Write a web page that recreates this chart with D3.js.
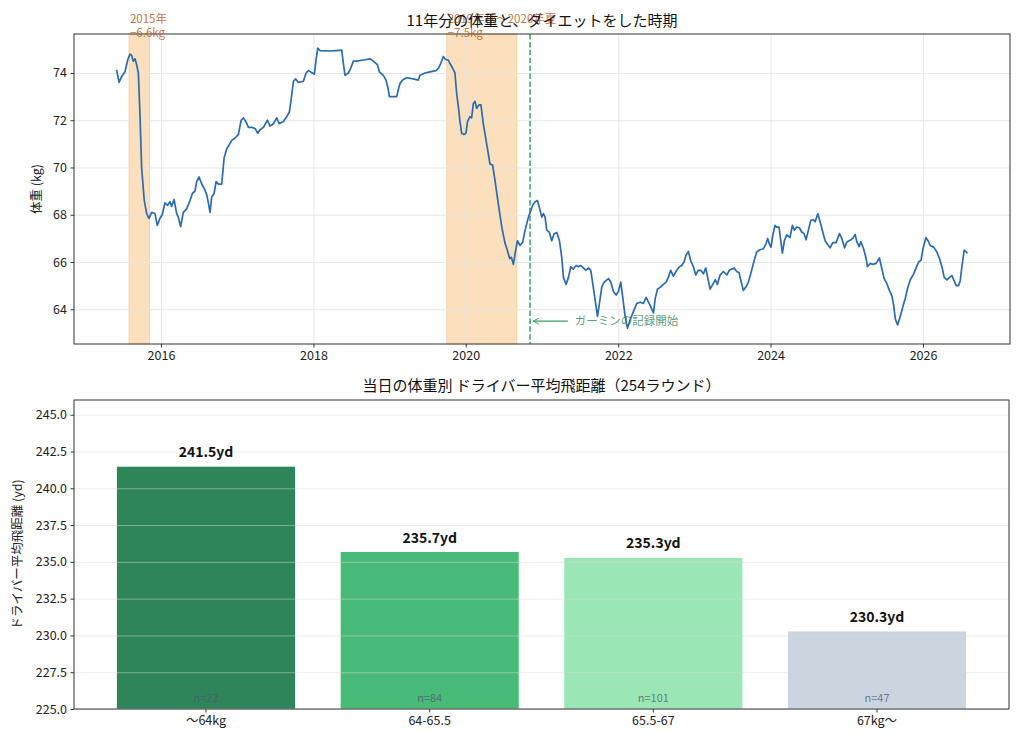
<!DOCTYPE html>
<html>
<head>
<meta charset="utf-8">
<script src="https://cdn.jsdelivr.net/npm/d3@7"></script>
<style>
  body { margin: 0; background: #fff; }
  svg { display: block; font-family: "Noto Sans CJK JP", "Noto Sans", sans-serif; }
  .tick text { fill: #222; font-family: "Noto Sans CJK JP", "Noto Sans", sans-serif; }
  .tick line { stroke: #333; }
  .grid line { stroke: #e4e4e4; stroke-width: 0.9; }
</style>
</head>
<body>
<div id="chart"></div>
<script>
// ---- data: weight series (decimal year, kg)
var weightYears = [
  2015.418, 2015.449, 2015.484, 2015.528, 2015.563, 2015.593, 2015.615, 2015.637, 2015.659, 2015.681,
  2015.703, 2015.724, 2015.746, 2015.781, 2015.812, 2015.843, 2015.878, 2015.921, 2015.952, 2015.987,
  2016.017, 2016.052, 2016.087, 2016.118, 2016.140, 2016.171, 2016.206, 2016.227, 2016.258, 2016.293,
  2016.337, 2016.381, 2016.411, 2016.446, 2016.468, 2016.499, 2016.534, 2016.569, 2016.599, 2016.621,
  2016.643, 2016.665, 2016.696, 2016.722, 2016.752, 2016.796, 2016.827, 2016.862, 2016.892, 2016.927,
  2016.971, 2017.015, 2017.050, 2017.080, 2017.111, 2017.146, 2017.190, 2017.234, 2017.269, 2017.299,
  2017.343, 2017.395, 2017.430, 2017.474, 2017.518, 2017.549, 2017.605, 2017.649, 2017.684, 2017.706,
  2017.737, 2017.767, 2017.802, 2017.868, 2017.903, 2017.934, 2017.986, 2018.012, 2018.034, 2018.056,
  2018.087, 2018.218, 2018.300, 2018.371, 2018.393, 2018.415, 2018.459, 2018.489, 2018.525, 2018.569,
  2018.656, 2018.743, 2018.787, 2018.840, 2018.866, 2018.918, 2018.953, 2018.983, 2018.997, 2019.093,
  2019.115, 2019.136, 2019.171, 2019.224, 2019.311, 2019.377, 2019.399, 2019.465, 2019.530, 2019.609,
  2019.640, 2019.671, 2019.705, 2019.727, 2019.749, 2019.771, 2019.793, 2019.828, 2019.858, 2019.880,
  2019.902, 2019.924, 2019.946, 2019.977, 2020.003, 2020.024, 2020.055, 2020.077, 2020.099, 2020.121,
  2020.143, 2020.173, 2020.199, 2020.230, 2020.274, 2020.317, 2020.352, 2020.383, 2020.427, 2020.471,
  2020.514, 2020.545, 2020.575, 2020.597, 2020.624, 2020.646, 2020.677, 2020.712, 2020.747, 2020.777,
  2020.821, 2020.877, 2020.908, 2020.939, 2020.965, 2020.995, 2021.017, 2021.039, 2021.061, 2021.096,
  2021.127, 2021.158, 2021.193, 2021.228, 2021.258, 2021.280, 2021.315, 2021.346, 2021.376, 2021.411,
  2021.446, 2021.477, 2021.508, 2021.543, 2021.578, 2021.608, 2021.639, 2021.665, 2021.696, 2021.727,
  2021.753, 2021.784, 2021.815, 2021.871, 2021.902, 2021.937, 2021.972, 2022.002, 2022.033, 2022.059,
  2022.090, 2022.121, 2022.155, 2022.199, 2022.243, 2022.287, 2022.331, 2022.366, 2022.397, 2022.428,
  2022.463, 2022.485, 2022.515, 2022.559, 2022.592, 2022.629, 2022.658, 2022.689, 2022.724, 2022.768,
  2022.803, 2022.834, 2022.864, 2022.891, 2022.921, 2022.952, 2022.987, 2023.017, 2023.052, 2023.083,
  2023.118, 2023.149, 2023.184, 2023.206, 2023.241, 2023.276, 2023.302, 2023.337, 2023.381, 2023.425,
  2023.460, 2023.490, 2023.521, 2023.556, 2023.586, 2023.608, 2023.643, 2023.678, 2023.709, 2023.740,
  2023.774, 2023.817, 2023.861, 2023.905, 2023.940, 2023.962, 2023.984, 2024.006, 2024.028, 2024.058,
  2024.080, 2024.111, 2024.133, 2024.155, 2024.181, 2024.212, 2024.255, 2024.286, 2024.312, 2024.343,
  2024.378, 2024.409, 2024.439, 2024.465, 2024.496, 2024.527, 2024.562, 2024.584, 2024.619, 2024.649,
  2024.684, 2024.715, 2024.745, 2024.780, 2024.815, 2024.859, 2024.903, 2024.934, 2024.969, 2024.999,
  2025.042, 2025.077, 2025.108, 2025.130, 2025.161, 2025.182, 2025.217, 2025.252, 2025.270, 2025.305,
  2025.340, 2025.383, 2025.427, 2025.458, 2025.488, 2025.523, 2025.558, 2025.593, 2025.615, 2025.637,
  2025.667, 2025.702, 2025.737, 2025.767, 2025.798, 2025.833, 2025.877, 2025.912, 2025.942, 2025.973,
  2025.999, 2026.038, 2026.065, 2026.095, 2026.139, 2026.182, 2026.217, 2026.248, 2026.278, 2026.313,
  2026.348, 2026.379, 2026.409, 2026.435, 2026.466, 2026.488, 2026.510, 2026.540, 2026.566, 2026.584
];
var weightKg = [
  74.13, 73.60, 73.85, 74.05, 74.55, 74.80, 74.75, 74.50, 74.60, 74.35,
  74.00, 72.30, 70.00, 68.60, 68.05, 67.85, 68.10, 68.05, 67.55, 67.85,
  68.00, 68.50, 68.40, 68.55, 68.35, 68.65, 68.05, 67.90, 67.50, 68.10,
  68.25, 68.60, 68.90, 69.00, 69.40, 69.60, 69.30, 69.10, 68.85, 68.50,
  68.10, 68.75, 68.90, 69.40, 69.30, 69.30, 70.40, 70.80, 70.95, 71.15,
  71.25, 71.40, 72.00, 72.10, 71.95, 71.70, 71.70, 71.65, 71.45, 71.60,
  71.70, 72.00, 71.75, 71.85, 72.10, 71.85, 71.95, 72.15, 72.35, 72.85,
  73.65, 73.75, 73.60, 73.65, 74.00, 74.10, 74.00, 73.95, 74.55, 75.05,
  74.95, 74.93, 74.95, 74.97, 74.40, 73.90, 74.00, 74.20, 74.50, 74.50,
  74.55, 74.60, 74.50, 74.35, 74.05, 73.90, 73.70, 73.30, 73.00, 73.00,
  73.30, 73.55, 73.70, 73.80, 73.75, 73.70, 73.90, 74.00, 74.05, 74.10,
  74.20, 74.40, 74.70, 74.60, 74.55, 74.55, 74.40, 74.20, 74.00, 73.15,
  72.60, 71.95, 71.45, 71.40, 71.45, 71.95, 72.15, 72.10, 72.70, 72.80,
  72.50, 72.65, 72.65, 71.85, 71.00, 70.15, 70.10, 69.45, 68.45, 67.50,
  66.80, 66.50, 66.15, 66.20, 65.90, 66.35, 66.90, 66.70, 66.85, 67.35,
  67.90, 68.40, 68.55, 68.60, 68.30, 67.90, 68.05, 67.90, 67.35, 67.25,
  66.90, 67.20, 67.25, 66.90, 66.20, 65.35, 65.05, 65.35, 65.80, 65.70,
  65.85, 65.80, 65.85, 65.75, 65.65, 65.75, 65.65, 65.10, 64.40, 63.70,
  64.25, 64.95, 65.15, 65.30, 65.15, 64.75, 64.60, 64.75, 65.15, 64.50,
  63.70, 63.20, 63.55, 63.90, 64.25, 64.30, 64.25, 64.50, 64.30, 64.10,
  63.85, 64.45, 64.85, 64.95, 65.05, 65.15, 65.35, 65.65, 65.40, 65.65,
  65.80, 65.85, 66.00, 66.30, 66.45, 66.05, 65.80, 65.45, 65.65, 65.65,
  65.50, 65.75, 65.20, 64.85, 65.05, 65.25, 65.05, 65.45, 65.60, 65.45,
  65.65, 65.70, 65.75, 65.60, 65.55, 65.25, 64.80, 64.95, 65.15, 65.50,
  65.93, 66.42, 66.52, 66.56, 66.77, 67.00, 66.77, 66.63, 67.10, 67.55,
  67.48, 67.48, 66.93, 66.38, 66.90, 67.15, 67.03, 67.55, 67.35, 67.48,
  67.45, 67.27, 67.20, 66.94, 67.35, 67.76, 67.79, 67.70, 68.04, 67.70,
  67.27, 66.90, 66.75, 66.60, 66.82, 66.82, 67.20, 67.00, 66.60, 66.85,
  66.92, 67.00, 67.17, 66.86, 66.65, 66.86, 66.58, 66.16, 65.80, 65.94,
  65.90, 65.94, 66.17, 65.73, 65.31, 65.10, 64.80, 64.56, 64.14, 63.57,
  63.34, 63.71, 64.14, 64.47, 64.90, 65.25, 65.50, 65.77, 66.00, 66.07,
  66.56, 67.03, 66.90, 66.70, 66.63, 66.42, 66.14, 65.80, 65.35, 65.24,
  65.35, 65.42, 65.20, 65.00, 65.00, 65.20, 65.80, 66.50, 66.43, 66.37
];

// diet periods (decimal year) and their labels
var dietStarts = [2015.58, 2019.75];
var dietEnds = [2015.85, 2020.67];
var dietLabels = [["2015年", "−6.6kg"], ["2019年秋〜2020年夏", "−7.5kg"]];
var garminStart = 2020.842;
var garminLabel = "ガーミンの記録開始";
var garminLabelKg = 63.5;
var garminLabelYear = 2021.43;

var weightTicks = [64, 66, 68, 70, 72, 74];
var yearTicks = [2016, 2018, 2020, 2022, 2024, 2026];

// ---- data: driver distance by weight bucket
var weightBuckets = ["〜64kg", "64-65.5", "65.5-67", "67kg〜"];
var avgDistance = [241.5, 235.7, 235.3, 230.3];
var roundCounts = [22, 84, 101, 47];
var distanceTicks = [225, 227.5, 230, 232.5, 235, 237.5, 240, 242.5, 245];
var bucketColors = ["#2f855a", "#48bb78", "#9ae6b4", "#cbd5e0"];

// decimal year -> Date
function yearToDate(y) {
    var yr = Math.floor(y);
    var a = new Date(yr, 0, 1), b = new Date(yr + 1, 0, 1);
    return new Date(+a + (y - yr) * (b - a));
}

// d3 axes put their own font on the group, drop it so the page font is used
function plainAxis(g) {
    g.attr("font-family", null).attr("font-size", null);
    g.select(".domain").remove();
}

var width = 1024, height = 745;
var svg = d3.select("#chart").append("svg")
    .attr("width", width)
    .attr("height", height);

// ================= top panel: weight history =================
var top1 = {left: 74, right: 1010, top: 34, bottom: 344};

var x = d3.scaleTime()
    .domain([yearToDate(2014.858), yearToDate(2027.142)])
    .range([top1.left, top1.right]);
var y = d3.scaleLinear()
    .domain([62.53, 75.65])
    .range([top1.bottom, top1.top]);

var weightData = weightYears.map(function(t, i) { return {date: yearToDate(t), kg: weightKg[i]}; });

// diet bands
svg.append("g").selectAll("rect")
    .data(dietStarts)
    .enter().append("rect")
    .attr("x", function(d) { return x(yearToDate(d)); })
    .attr("y", top1.top)
    .attr("width", function(d, i) { return x(yearToDate(dietEnds[i])) - x(yearToDate(d)); })
    .attr("height", top1.bottom - top1.top)
    .attr("fill", "#f6ad55")
    .attr("fill-opacity", 0.38)
    .attr("stroke", "#f6ad55")
    .attr("stroke-opacity", 0.4)
    .attr("stroke-width", 1);

// gridlines
svg.append("g")
    .attr("class", "grid")
    .attr("transform", "translate(0," + top1.bottom + ")")
    .call(d3.axisBottom(x).tickValues(yearTicks.map(yearToDate)).tickSize(-(top1.bottom - top1.top)).tickFormat(""))
    .call(plainAxis);
svg.append("g")
    .attr("class", "grid")
    .attr("transform", "translate(" + top1.left + ",0)")
    .call(d3.axisLeft(y).tickValues(weightTicks).tickSize(-(top1.right - top1.left)).tickFormat(""))
    .call(plainAxis);

// garmin start line
svg.append("line")
    .attr("x1", x(yearToDate(garminStart)))
    .attr("x2", x(yearToDate(garminStart)))
    .attr("y1", top1.top)
    .attr("y2", top1.bottom)
    .attr("stroke", "#38a169")
    .attr("stroke-width", 1.5)
    .attr("stroke-dasharray", "5.5,2.4");

// weight line
var line = d3.line()
    .x(function(d) { return x(d.date); })
    .y(function(d) { return y(d.kg); });
svg.append("path")
    .datum(weightData)
    .attr("fill", "none")
    .attr("stroke", "#2b6cb0")
    .attr("stroke-width", 1.7)
    .attr("stroke-linejoin", "round")
    .attr("d", line);

// axes
svg.append("g")
    .attr("transform", "translate(0," + top1.bottom + ")")
    .call(d3.axisBottom(x).tickValues(yearTicks.map(yearToDate)).tickSize(3.5).tickPadding(3.5).tickFormat(d3.timeFormat("%Y")))
    .call(plainAxis)
    .selectAll("text").style("font-size", "12.5px");
svg.append("g")
    .attr("transform", "translate(" + top1.left + ",0)")
    .call(d3.axisLeft(y).tickValues(weightTicks).tickSize(3.5).tickPadding(3.5))
    .call(plainAxis)
    .selectAll("text").style("font-size", "12.5px");

svg.append("rect")
    .attr("x", top1.left).attr("y", top1.top)
    .attr("width", top1.right - top1.left).attr("height", top1.bottom - top1.top)
    .attr("fill", "none").attr("stroke", "#333").attr("stroke-width", 1);

// garmin annotation
var gy = y(garminLabelKg);
svg.append("defs").append("marker")
    .attr("id", "arrowHead")
    .attr("viewBox", "0 0 10 10")
    .attr("refX", 9).attr("refY", 5)
    .attr("markerWidth", 7).attr("markerHeight", 7)
    .attr("markerUnits", "userSpaceOnUse")
    .attr("orient", "auto")
    .append("path")
    .attr("d", "M1,1 L9,5 L1,9")
    .attr("fill", "none")
    .attr("stroke", "#38a169")
    .attr("stroke-width", 1.4);
svg.append("line")
    .attr("x1", x(yearToDate(garminLabelYear)) - 7)
    .attr("x2", x(yearToDate(garminStart)) + 3)
    .attr("y1", gy).attr("y2", gy)
    .attr("stroke", "#38a169")
    .attr("stroke-width", 1.2)
    .attr("marker-end", "url(#arrowHead)");
svg.append("text")
    .attr("x", x(yearToDate(garminLabelYear)))
    .attr("y", gy + 4)
    .attr("fill", "#2f855a")
    .attr("fill-opacity", 0.8)
    .style("font-size", "11.5px")
    .text(garminLabel);

// diet labels
dietStarts.forEach(function(d, i) {
    var t = svg.append("text")
        .attr("x", x(yearToDate(d)) + 1)
        .attr("fill", "#c05621")
        .attr("fill-opacity", 0.85)
        .style("font-size", "11.5px");
    t.append("tspan").attr("x", x(yearToDate(d)) + 1).attr("y", 23).text(dietLabels[i][0]);
    t.append("tspan").attr("x", x(yearToDate(d)) + 1).attr("y", 36.5).text(dietLabels[i][1]);
});

// title and y label
svg.append("text")
    .attr("x", (top1.left + top1.right) / 2)
    .attr("y", 26)
    .attr("text-anchor", "middle")
    .style("font-size", "15px")
    .attr("fill", "#111")
    .text("11年分の体重と、ダイエットをした時期");
svg.append("text")
    .attr("text-anchor", "middle")
    .style("font-size", "12.5px")
    .attr("fill", "#222")
    .attr("transform", "translate(41," + ((top1.top + top1.bottom) / 2) + ")rotate(-90)")
    .text("体重 (kg)");

// ================= bottom panel: driver distance =================
var bot = {left: 74, right: 1009, top: 400, bottom: 709};

var xb = d3.scaleBand()
    .domain(weightBuckets)
    .range([bot.left, bot.right])
    .paddingInner(0.2)
    .paddingOuter(0.19);
var yb = d3.scaleLinear()
    .domain([225, 246])
    .range([bot.bottom, bot.top]);

// bars
svg.append("g").selectAll("rect")
    .data(avgDistance)
    .enter().append("rect")
    .attr("x", function(d, i) { return xb(weightBuckets[i]); })
    .attr("y", function(d) { return yb(d); })
    .attr("width", xb.bandwidth())
    .attr("height", function(d) { return yb(225) - yb(d); })
    .attr("fill", function(d, i) { return bucketColors[i]; })
    .attr("stroke", "#fff")
    .attr("stroke-width", 0.8);

// horizontal gridlines (over the bars, like the original)
svg.append("g")
    .attr("class", "grid")
    .attr("transform", "translate(" + bot.left + ",0)")
    .call(d3.axisLeft(yb).tickValues(distanceTicks).tickSize(-(bot.right - bot.left)).tickFormat(""))
    .call(plainAxis)
    .selectAll("line").style("stroke", "#d8d8d8").style("stroke-opacity", 0.55);

// value labels
svg.append("g").selectAll("text")
    .data(avgDistance)
    .enter().append("text")
    .attr("x", function(d, i) { return xb(weightBuckets[i]) + xb.bandwidth() / 2; })
    .attr("y", function(d) { return yb(d) - 9; })
    .attr("text-anchor", "middle")
    .style("font-size", "14px")
    .style("font-weight", "bold")
    .attr("fill", "#111")
    .text(function(d) { return d3.format(".1f")(d) + "yd"; });

// n labels
svg.append("g").selectAll("text")
    .data(roundCounts)
    .enter().append("text")
    .attr("x", function(d, i) { return xb(weightBuckets[i]) + xb.bandwidth() / 2; })
    .attr("y", yb(225) - 7)
    .attr("text-anchor", "middle")
    .style("font-size", "11px")
    .attr("fill", "#4a5568")
    .attr("fill-opacity", 0.75)
    .text(function(d) { return "n=" + d; });

// axes
svg.append("g")
    .attr("transform", "translate(0," + bot.bottom + ")")
    .call(d3.axisBottom(xb).tickSize(3.5).tickPadding(3.5))
    .call(plainAxis)
    .selectAll("text").style("font-size", "12.5px");
svg.append("g")
    .attr("transform", "translate(" + bot.left + ",0)")
    .call(d3.axisLeft(yb).tickValues(distanceTicks).tickSize(3.5).tickPadding(3.5).tickFormat(d3.format(".1f")))
    .call(plainAxis)
    .selectAll("text").style("font-size", "12.5px");

svg.append("rect")
    .attr("x", bot.left).attr("y", bot.top)
    .attr("width", bot.right - bot.left).attr("height", bot.bottom - bot.top)
    .attr("fill", "none").attr("stroke", "#333").attr("stroke-width", 1);

svg.append("text")
    .attr("x", (bot.left + bot.right) / 2)
    .attr("y", 391)
    .attr("text-anchor", "middle")
    .style("font-size", "15px")
    .attr("fill", "#111")
    .text("当日の体重別 ドライバー平均飛距離（254ラウンド）");
svg.append("text")
    .attr("text-anchor", "middle")
    .style("font-size", "12.5px")
    .attr("fill", "#222")
    .attr("transform", "translate(22," + ((bot.top + bot.bottom) / 2) + ")rotate(-90)")
    .text("ドライバー平均飛距離 (yd)");
</script>
</body>
</html>
